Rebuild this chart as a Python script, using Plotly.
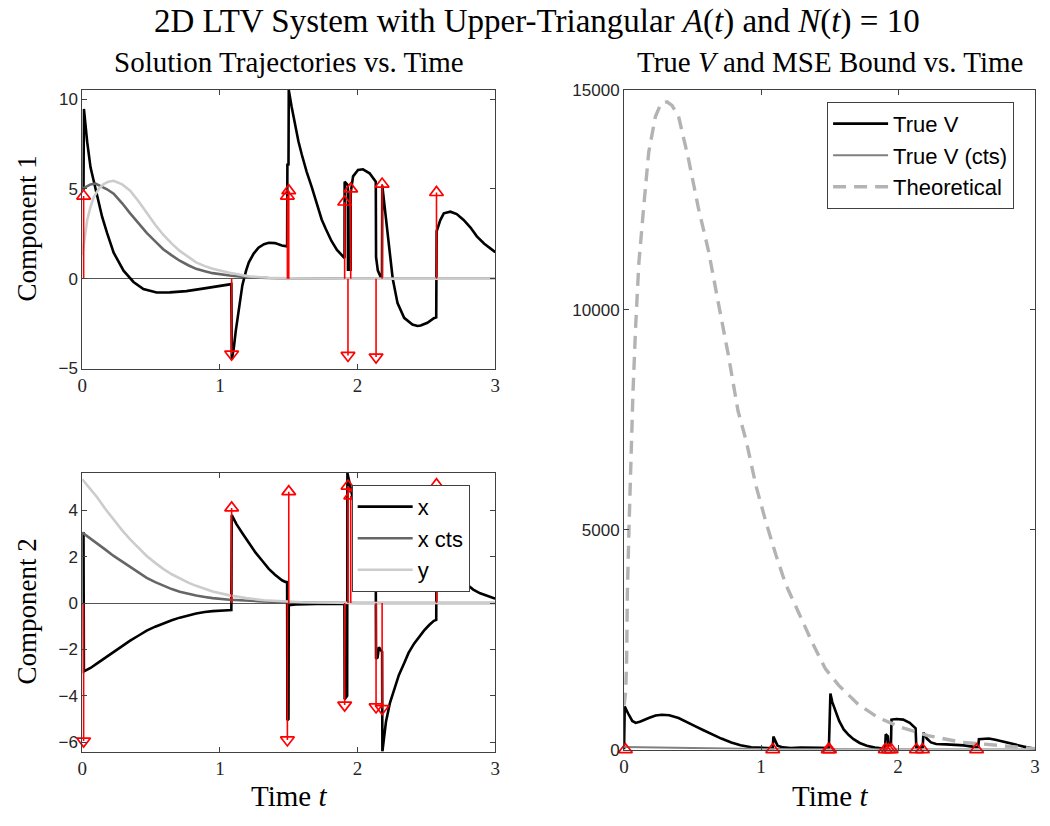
import plotly.graph_objects as go

# ---------------- data ----------------
# impulse times and jump sizes of the two components
imp_t = [0.01, 1.085, 1.49, 1.50, 1.906, 1.93, 1.95, 2.134, 2.178, 2.573]
imp_c1 = [4.6, -4.2, 4.6, 4.9, 4.27, -4.27, 5.0, -4.36, 5.27, 4.8]
imp_c2 = [-5.95, 4.1, -5.9, 4.8, -4.4, 5.04, 4.62, -4.48, -4.55, 5.1]

# Component 1 : impulsive solution x
c1_x_t = [0, 0.009, 0.012, 0.036, 0.06, 0.084, 0.108, 0.144, 0.18, 0.228, 0.30, 0.372, 0.444,
          0.54, 0.636, 0.756, 0.876, 0.996, 1.083, 1.086, 1.10, 1.115, 1.14, 1.163, 1.19, 1.21,
          1.245, 1.28, 1.32, 1.355, 1.40, 1.45, 1.488, 1.49, 1.498, 1.50, 1.52, 1.547, 1.57,
          1.595, 1.63, 1.667, 1.70, 1.739, 1.77, 1.81, 1.85, 1.895, 1.905, 1.906, 1.929, 1.930,
          1.949, 1.95, 1.967, 2.003, 2.039, 2.087, 2.118, 2.132, 2.134, 2.147, 2.17, 2.177,
          2.179, 2.206, 2.23, 2.255, 2.29, 2.338, 2.398, 2.435, 2.458, 2.507, 2.554, 2.571,
          2.574, 2.60, 2.626, 2.674, 2.72, 2.77, 2.82, 2.866, 2.92, 2.986, 3.0]
c1_x_v = [5.0, 5.0, 9.45, 7.6, 6.2, 5.45, 4.7, 3.45, 2.55, 1.45, 0.45, -0.18, -0.58,
          -0.77, -0.76, -0.69, -0.55, -0.4, -0.3, -4.5, -3.9, -2.9, -1.5, -0.36, 0.45, 0.91,
          1.4, 1.73, 1.92, 2.0, 1.98, 1.85, 1.8, 6.4, 6.3, 10.5, 9.6, 8.55, 7.65,
          6.9, 5.95, 5.1, 4.25, 3.3, 2.75, 2.1, 1.6, 1.18, 1.15, 5.4, 5.2, 0.5,
          0.5, 4.8, 5.7, 6.05, 6.09, 5.87, 5.55, 5.4, 1.2, 0.45, 0.05, 0.0,
          5.2, 3.36, 1.55, 0.0, -1.36, -2.18, -2.55, -2.63, -2.6, -2.45, -2.2, -2.15,
          2.64, 3.25, 3.64, 3.73, 3.6, 3.27, 2.85, 2.36, 1.95, 1.55, 1.48]

# Component 1 : continuous solution x cts
c1_xc_t = [0, 0.03, 0.06, 0.096, 0.14, 0.18, 0.228, 0.29, 0.348, 0.41, 0.468, 0.53, 0.588,
           0.65, 0.708, 0.77, 0.827, 0.89, 0.947, 1.07, 1.19, 1.35, 1.5, 2.0, 3.0]
c1_xc_v = [5.0, 5.15, 5.25, 5.3, 5.15, 4.98, 4.73, 4.2, 3.64, 3.1, 2.55, 2.08, 1.64,
           1.3, 1.0, 0.75, 0.55, 0.42, 0.31, 0.18, 0.09, 0.04, 0.02, 0.0, 0.0]

# Component 1 : y
c1_y_t = [0, 0.018, 0.036, 0.06, 0.084, 0.12, 0.156, 0.19, 0.228, 0.29, 0.348, 0.41, 0.468,
          0.53, 0.588, 0.65, 0.708, 0.77, 0.827, 0.89, 0.947, 1.07, 1.21, 1.355, 1.5, 2.0, 3.0]
c1_y_v = [1.3, 2.4, 3.27, 4.0, 4.55, 5.0, 5.27, 5.4, 5.45, 5.25, 4.9, 4.3, 3.64,
          3.0, 2.45, 1.95, 1.55, 1.2, 0.91, 0.7, 0.55, 0.33, 0.13, 0.05, 0.02, 0.0, 0.0]

# Component 2 : impulsive solution x
c2_x_t = [0, 0.009, 0.012, 0.06, 0.108, 0.168, 0.228, 0.29, 0.348, 0.41, 0.468, 0.53, 0.588,
          0.65, 0.708, 0.77, 0.827, 0.89, 0.947, 1.06, 1.083, 1.086, 1.12, 1.163, 1.21, 1.259,
          1.31, 1.355, 1.40, 1.451, 1.475, 1.488, 1.49, 1.498, 1.50, 1.55, 1.7, 1.904, 1.906,
          1.924, 1.926, 1.95, 1.98, 2.02, 2.06, 2.10, 2.132, 2.134, 2.145, 2.155, 2.165, 2.178,
          2.18, 2.206, 2.235, 2.266, 2.30, 2.338, 2.37, 2.41, 2.45, 2.482, 2.52, 2.554, 2.571,
          2.574, 2.60, 2.64, 2.68, 2.72, 2.74, 2.794, 2.84, 2.89, 2.94, 2.986, 3.0]
c2_x_v = [3.0, 3.0, -2.95, -2.8, -2.6, -2.35, -2.1, -1.85, -1.62, -1.4, -1.19, -1.02, -0.87,
          -0.74, -0.63, -0.53, -0.45, -0.39, -0.35, -0.31, -0.3, 3.79, 3.4, 3.01, 2.58, 2.17,
          1.8, 1.47, 1.22, 0.98, 0.91, 0.9, -5.05, -5.0, -0.1, -0.06, -0.04, -0.03, -4.15,
          -4.0, 5.6, 4.9, 4.1, 3.1, 2.2, 1.4, 0.9, -2.4, -2.35, -1.9, -2.0, -2.1,
          -6.4, -5.12, -4.3, -3.72, -3.1, -2.6, -2.15, -1.75, -1.43, -1.19, -0.95, -0.77, -0.73,
          4.35, 3.6, 2.7, 1.95, 1.3, 1.05, 0.8, 0.58, 0.42, 0.3, 0.22, 0.2]

# Component 2 : continuous solution x cts
c2_xc_t = [0, 0.05, 0.108, 0.168, 0.228, 0.29, 0.348, 0.41, 0.468, 0.53, 0.588, 0.65, 0.708,
           0.77, 0.827, 0.89, 0.947, 1.07, 1.19, 1.31, 1.5, 2.0, 3.0]
c2_xc_v = [3.04, 2.82, 2.6, 2.3, 2.03, 1.78, 1.54, 1.3, 1.08, 0.9, 0.74, 0.6, 0.49,
           0.4, 0.32, 0.26, 0.21, 0.14, 0.1, 0.07, 0.03, 0.0, 0.0]

# Component 2 : y
c2_y_t = [0, 0.05, 0.108, 0.168, 0.228, 0.29, 0.348, 0.41, 0.468, 0.53, 0.588, 0.65, 0.708,
          0.77, 0.827, 0.89, 0.947, 1.07, 1.19, 1.32, 1.45, 1.6, 2.0, 3.0]
c2_y_v = [5.33, 4.95, 4.56, 4.05, 3.58, 3.13, 2.74, 2.37, 2.03, 1.73, 1.47, 1.24, 1.05,
          0.88, 0.74, 0.6, 0.5, 0.33, 0.21, 0.12, 0.07, 0.03, 0.0, 0.0]

# True V (impulsive)
v_t = [0, 0.005, 0.03, 0.06, 0.085, 0.12, 0.18, 0.23, 0.277, 0.33, 0.398, 0.46, 0.518, 0.58,
       0.638, 0.71, 0.783, 0.85, 0.928, 1.0, 1.07, 1.085, 1.09, 1.105, 1.12, 1.16, 1.217, 1.29,
       1.36, 1.43, 1.495, 1.506, 1.52, 1.543, 1.57, 1.603, 1.64, 1.675, 1.72, 1.772, 1.83,
       1.892, 1.905, 1.91, 1.925, 1.93, 1.948, 1.952, 1.988, 2.037, 2.085, 2.128, 2.133,
       2.17, 2.18, 2.185, 2.21, 2.24, 2.278, 2.35, 2.422, 2.48, 2.543, 2.585, 2.59, 2.663,
       2.71, 2.76, 2.82, 2.88, 2.94, 3.0]
v_v = [0, 980, 820, 650, 607, 640, 718, 775, 793, 780, 718, 630, 533, 440,
       348, 250, 163, 100, 52, 38, 30, 30, 296, 180, 89, 50, 37, 45,
       52, 42, 37, 1274, 1080, 867, 650, 459, 330, 237, 150, 89, 45,
       22, 20, 348, 300, 110, 120, 682, 696, 682, 607, 482, 52,
       50, 60, 385, 250, 163, 126, 118, 111, 95, 67, 60, 237, 252,
       225, 185, 135, 89, 50, 15]

# True V (continuous)
vc_t = [0, 0.3, 0.6, 1.0, 1.5, 2.0, 3.0]
vc_v = [60, 45, 30, 15, 5, 1, 0]

# Theoretical MSE bound
th_t = [0, 0.012, 0.019, 0.024, 0.036, 0.048, 0.065, 0.084, 0.108, 0.145, 0.18, 0.229, 0.27,
        0.313, 0.35, 0.398, 0.47, 0.542, 0.615, 0.687, 0.76, 0.832, 0.892, 0.964, 1.036,
        1.108, 1.18, 1.277, 1.374, 1.47, 1.567, 1.711, 1.856, 2.025, 2.218, 2.458, 2.7, 3.0]
th_v = [1000, 1320, 2060, 3540, 5020, 6500, 8111, 9585, 11067, 12400, 13585, 14400, 14700,
        14733, 14650, 14400, 13437, 12326, 11363, 10178, 8993, 7700, 7015, 5985, 5170,
        4430, 3760, 3096, 2430, 1835, 1460, 1022, 724, 502, 318, 169, 96, 20]

x_ticks = [0, 1, 2, 3]
c1_ticks = [-5, 0, 5, 10]
c2_ticks = [-6, -4, -2, 0, 2, 4]
v_ticks = [0, 5000, 10000, 15000]

# ---------------- styling ----------------
W, H = 1050, 826
SERIF = "Liberation Serif"
SANS = "Liberation Sans"
AXC = "#404040"
TXT = "#262626"
RED = "#ff0000"
LW = 2.6


def px_x(p):
    return p / W


def px_y(p):
    return 1 - p / H


fig = go.Figure()


def stems(t, v, xa, ya):
    xs, ys = [], []
    for ti, vi in zip(t, v):
        xs += [ti, ti, None]
        ys += [0, vi, None]
    fig.add_trace(go.Scatter(x=xs, y=ys, mode="lines", line=dict(color=RED, width=1.6),
                             xaxis=xa, yaxis=ya, showlegend=False, hoverinfo="skip"))
    sym = ["triangle-up-open" if vi > 0 else "triangle-down-open" for vi in v]
    fig.add_trace(go.Scatter(x=t, y=v, mode="markers",
                             marker=dict(symbol=sym, size=12, color=RED,
                                         line=dict(color=RED, width=1.7)),
                             xaxis=xa, yaxis=ya, showlegend=False, cliponaxis=False,
                             hoverinfo="skip"))


# top-left panel
fig.add_trace(go.Scatter(x=c1_x_t, y=c1_x_v, mode="lines", line=dict(color="black", width=LW),
                         xaxis="x", yaxis="y", showlegend=False))
fig.add_trace(go.Scatter(x=c1_xc_t, y=c1_xc_v, mode="lines", line=dict(color="#666666", width=LW),
                         xaxis="x", yaxis="y", showlegend=False))
fig.add_trace(go.Scatter(x=c1_y_t, y=c1_y_v, mode="lines", line=dict(color="#cccccc", width=LW),
                         xaxis="x", yaxis="y", showlegend=False))
stems(imp_t, imp_c1, "x", "y")

# bottom-left panel
fig.add_trace(go.Scatter(x=c2_x_t, y=c2_x_v, mode="lines", line=dict(color="black", width=LW),
                         xaxis="x2", yaxis="y2", name="x", legend="legend"))
fig.add_trace(go.Scatter(x=c2_xc_t, y=c2_xc_v, mode="lines", line=dict(color="#666666", width=LW),
                         xaxis="x2", yaxis="y2", name="x cts", legend="legend"))
fig.add_trace(go.Scatter(x=c2_y_t, y=c2_y_v, mode="lines", line=dict(color="#cccccc", width=LW),
                         xaxis="x2", yaxis="y2", name="y", legend="legend"))
stems(imp_t, imp_c2, "x2", "y2")

# right panel
fig.add_trace(go.Scatter(x=v_t, y=v_v, mode="lines", line=dict(color="black", width=LW),
                         xaxis="x3", yaxis="y3", name="True V", legend="legend2"))
fig.add_trace(go.Scatter(x=vc_t, y=vc_v, mode="lines", line=dict(color="#808080", width=2),
                         xaxis="x3", yaxis="y3", name="True V (cts)", legend="legend2"))
fig.add_trace(go.Scatter(x=th_t, y=th_v, mode="lines",
                         line=dict(color="#b3b3b3", width=3.4, dash="13px,8px"),
                         xaxis="x3", yaxis="y3", name="Theoretical", legend="legend2"))
fig.add_trace(go.Scatter(x=imp_t, y=[0] * len(imp_t), mode="markers",
                         marker=dict(symbol="triangle-up-open", size=12, color=RED,
                                     line=dict(color=RED, width=1.7)),
                         xaxis="x3", yaxis="y3", showlegend=False, cliponaxis=False))

common_x = dict(range=[0, 3], tickvals=x_ticks, ticks="inside", ticklen=5, tickcolor=AXC,
                showline=True, linecolor=AXC, linewidth=1, mirror="ticks", showgrid=False,
                zeroline=False, tickfont=dict(family=SERIF, size=19, color=TXT))
common_y = dict(ticks="inside", ticklen=5, tickcolor=AXC, showline=True, linecolor=AXC,
                linewidth=1, mirror="ticks", showgrid=False,
                tickfont=dict(family=SANS, size=17, color=TXT))

fig.update_layout(
    width=W, height=H, margin=dict(l=0, r=0, t=0, b=0),
    paper_bgcolor="white", plot_bgcolor="white",
    xaxis=dict(domain=[px_x(78), px_x(495)], anchor="y", **common_x),
    yaxis=dict(domain=[px_y(368), px_y(83)], anchor="x", range=[-5, 10.5], tickvals=c1_ticks,
               zeroline=True, zerolinecolor="#555555", zerolinewidth=1, **common_y),
    xaxis2=dict(domain=[px_x(78), px_x(495)], anchor="y2", **common_x),
    yaxis2=dict(domain=[px_y(760), px_y(475)], anchor="x2", range=[-6.4, 5.6], tickvals=c2_ticks,
                zeroline=True, zerolinecolor="#555555", zerolinewidth=1, **common_y),
    xaxis3=dict(domain=[px_x(625), px_x(1040)], anchor="y3", **common_x),
    yaxis3=dict(domain=[px_y(758), px_y(83)], anchor="x3", range=[0, 15000], tickvals=v_ticks,
                ticktext=[str(v) for v in v_ticks], zeroline=False, **common_y),
    legend=dict(x=px_x(350), y=px_y(487), xanchor="left", yanchor="top",
                bgcolor="white", bordercolor=AXC, borderwidth=1,
                font=dict(family=SANS, size=22, color="black"), itemwidth=55,
                tracegroupgap=0),
    legend2=dict(x=px_x(830), y=px_y(95), xanchor="left", yanchor="top",
                 bgcolor="white", bordercolor=AXC, borderwidth=1,
                 font=dict(family=SANS, size=22, color="black"), itemwidth=55,
                 tracegroupgap=0),
)

ann = [
    dict(text="2D LTV System with Upper-Triangular <i>A</i>(<i>t</i>) and <i>N</i>(<i>t</i>) = 10",
         x=px_x(537), y=px_y(13), size=33),
    dict(text="Solution Trajectories vs. Time", x=px_x(287), y=px_y(54), size=29),
    dict(text="True <i>V</i> and MSE Bound vs. Time", x=px_x(833), y=px_y(54), size=29),
    dict(text="Time <i>t</i>", x=px_x(287), y=px_y(806), size=29),
    dict(text="Time <i>t</i>", x=px_x(833), y=px_y(806), size=29),
]
for a in ann:
    fig.add_annotation(text=a["text"], x=a["x"], y=a["y"], xref="paper", yref="paper",
                       xanchor="center", yanchor="middle", showarrow=False,
                       font=dict(family=SERIF, size=a["size"], color="black"))
for txt, yc in [("Component 1", 225), ("Component 2", 617)]:
    fig.add_annotation(text=txt, x=px_x(22), y=px_y(yc), xref="paper", yref="paper",
                       xanchor="center", yanchor="middle", showarrow=False, textangle=-90,
                       font=dict(family=SERIF, size=27, color="black"))

fig.write_html("out.html")
